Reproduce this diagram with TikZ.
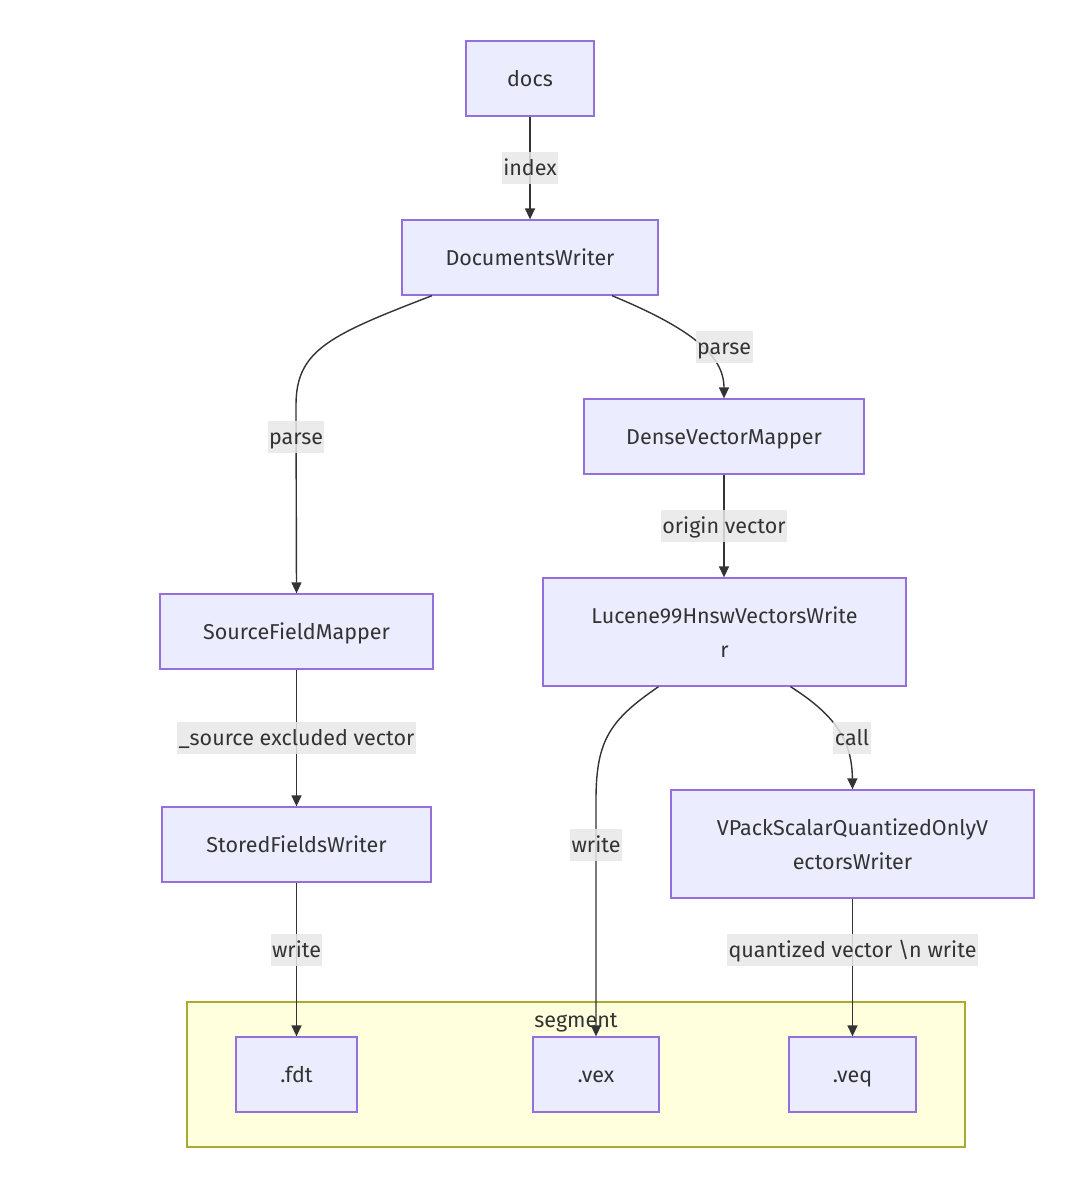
\documentclass[tikz,border=0pt]{standalone}
\usepackage{fontspec}
\setmainfont{Fira Sans}
\usetikzlibrary{arrows.meta}
\definecolor{nodefill}{HTML}{ECECFF}
\definecolor{nodeline}{HTML}{9370DB}
\definecolor{txt}{HTML}{333333}
\definecolor{lblfill}{HTML}{E8E8E8}
\definecolor{segfill}{HTML}{FFFFDE}
\definecolor{segline}{HTML}{AAAA33}
\tikzset{
  box/.style={draw=nodeline, fill=nodefill, line width=1.3pt, inner sep=0pt, text=txt, align=center, font=\fontsize{21.5}{34}\selectfont},
  onebox/.style={box, text height=19pt, text depth=4pt},
  lbl/.style={fill=lblfill, fill opacity=0.85, text opacity=1, text=txt, inner xsep=1.5pt, inner ysep=0pt, minimum height=32pt, text height=19pt, text depth=4pt, font=\fontsize{21.5}{24}\selectfont},
  edge/.style={draw=txt, line width=1.4pt, -{Triangle[length=11pt,width=10pt]}},
}
\begin{document}
\begin{tikzpicture}[x=1pt,y=-1pt]
\useasboundingbox (0,0) rectangle (1080,1200);
% segment cluster
\draw[segline, fill=segfill, line width=1.2pt] (187,1002) rectangle (965,1147);
\node[text=txt, font=\fontsize{21.5}{24}\selectfont, text height=19pt, text depth=4pt] (seglbl) at (576,1020) {segment};
% nodes
\node[onebox, minimum width=128pt, minimum height=75pt] (docs) at (530,78.5) {docs};
\node[onebox, minimum width=256pt, minimum height=75pt] (dw) at (530,257.5) {DocumentsWriter};
\node[onebox, minimum width=280pt, minimum height=75pt] (dvm) at (724,436.5) {DenseVectorMapper};
\node[onebox, minimum width=273pt, minimum height=75pt] (sfm) at (296.5,631.5) {SourceFieldMapper};
\node[box, minimum width=363pt, minimum height=108pt] (luc) at (724.5,632) {Lucene99HnswVectorsWrite\\r};
\node[onebox, minimum width=269pt, minimum height=75pt] (sfw) at (296.5,844.5) {StoredFieldsWriter};
\node[box, minimum width=363pt, minimum height=108pt] (vp) at (852.5,844) {VPackScalarQuantizedOnlyV\\ectorsWriter};
\node[onebox, minimum width=121pt, minimum height=75pt] (fdt) at (296.5,1074.5) {.fdt};
\node[onebox, minimum width=126pt, minimum height=75pt] (vex) at (596,1074.5) {.vex};
\node[onebox, minimum width=127pt, minimum height=75pt] (veq) at (852.5,1074.5) {.veq};
% edges
\draw[edge] (docs.south) -- (dw.north);
\draw[edge] (dw.south) ++(-98,0) coordinate (a1) .. controls (330,335) and (296,350) .. (296,405) -- (sfm.north);
\draw[edge] (dw.south) ++(82,0) coordinate (a2) .. controls (690,328) and (724,355) .. (dvm.north);
\draw[edge] (dvm.south) -- (luc.north -| dvm.south);
\draw[edge] (sfm.south) -- (sfw.north);
\draw[edge] (luc.south) ++(-66,0) coordinate (a3) .. controls (610,720) and (596,740) .. (596,800) -- (vex.north);
\draw[edge] (luc.south) ++(66,0) coordinate (a4) .. controls (835,715) and (852,740) .. (vp.north);
\draw[edge] (sfw.south) -- (fdt.north);
\draw[edge] (vp.south) -- (veq.north);
% edge labels
\node[lbl] (l1) at (530,168) {index};
\node[lbl] (l2) at (296,437) {parse};
\node[lbl] (l3) at (724,347) {parse};
\node[lbl] (l4) at (724,526) {origin vector};
\node[lbl] (l5) at (296.5,738) {\_source excluded vector};
\node[lbl] (l6) at (596,845) {write};
\node[lbl] (l7) at (852,738) {call};
\node[lbl] (l8) at (296.5,950) {write};
\node[lbl] (l9) at (852.5,950) {quantized vector \textbackslash n write};
\end{tikzpicture}
\end{document}
